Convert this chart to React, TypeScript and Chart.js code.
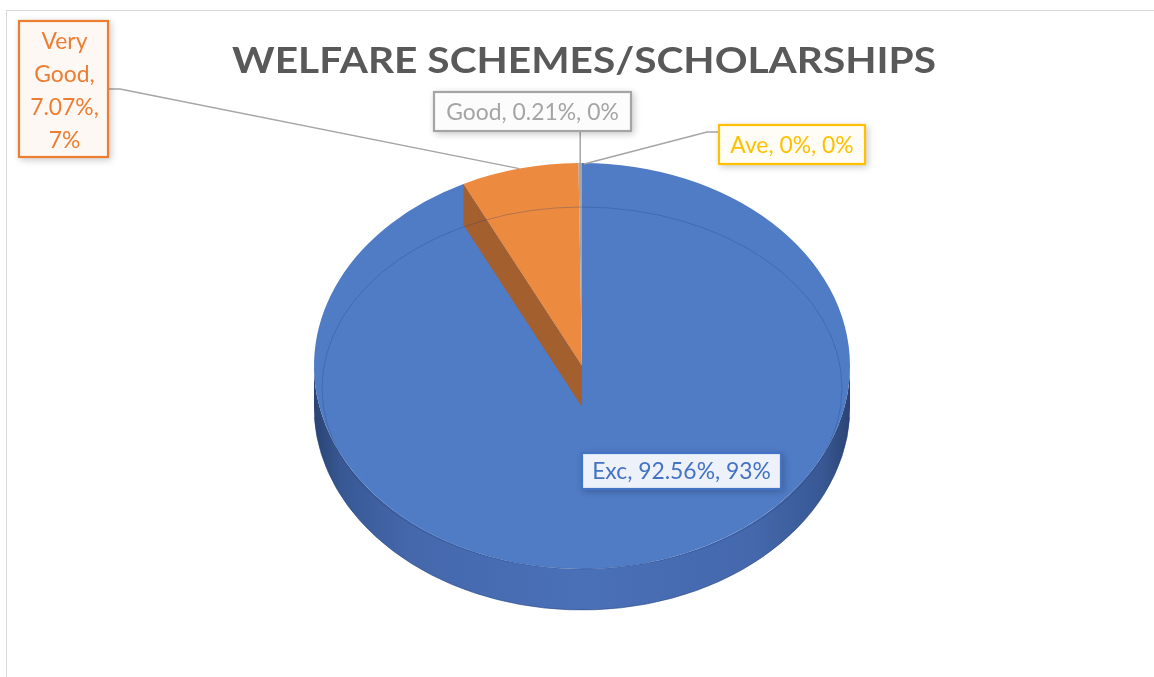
import { useEffect, useRef } from "react";
import { Chart, registerables } from "chart.js";

Chart.register(...registerables);

// ---- data ----
const categories = ["Exc", "Very Good", "Good", "Ave"];
const percentValues = [92.56, 7.07, 0.21, 0];
const percentText = ["92.56%", "7.07%", "0.21%", "0%"];
const roundedText = ["93%", "7%", "0%", "0%"];
const faceColors = ["#507CC6", "#EC8A3F", "#A5A5A5", "#FFC000"];
const labelColors = ["#4472C4", "#ED7D31", "#A5A5A5", "#FFC000"];
const labelFills = ["#EDF1F9", "#FEF8F4", "#FCFCFC", "#FFFDF6"];
const chartTitle = "WELFARE SCHEMES/SCHOLARSHIPS";

const FONT = "Lato, 'Open Sans', 'DejaVu Sans', sans-serif";

// draws text with a given cap height, squeezed horizontally to a target width ratio
function capSize(ctx: CanvasRenderingContext2D, cap: number, weight: string) {
  ctx.font = `${weight} 100px ${FONT}`;
  const c = ctx.measureText("H").actualBoundingBoxAscent;
  return (100 * cap) / c;
}

export default function App() {
  const ref = useRef<HTMLCanvasElement>(null);

  useEffect(() => {
    const canvas = ref.current!;
    const depth = 41;
    const squash = 203 / 268;

    const pie3d = {
      id: "pie3d",
      beforeDatasetsDraw(chart: any) {
        const arc = chart.getDatasetMeta(0).data[0];
        const cx = arc.x, cy = arc.y, rx = arc.outerRadius, ry = rx * squash;
        const ctx: CanvasRenderingContext2D = chart.ctx;
        ctx.save();
        const g = ctx.createLinearGradient(cx - rx, 0, cx + rx, 0);
        g.addColorStop(0, "#2A4372");
        g.addColorStop(0.05, "#385894");
        g.addColorStop(0.18, "#4568AC");
        g.addColorStop(0.5, "#4A70B8");
        g.addColorStop(0.82, "#4568AC");
        g.addColorStop(0.95, "#385894");
        g.addColorStop(1, "#2A4372");
        ctx.beginPath();
        ctx.ellipse(cx, cy, rx, ry, 0, 0, Math.PI, false);
        ctx.lineTo(cx - rx, cy + depth);
        ctx.ellipse(cx, cy + depth, rx, ry, 0, Math.PI, 0, true);
        ctx.closePath();
        ctx.fillStyle = g;
        ctx.fill();
        ctx.beginPath();
        ctx.ellipse(cx, cy + depth, rx, ry, 0, 0.05, Math.PI - 0.05, false);
        ctx.strokeStyle = "rgba(40,70,130,0.6)";
        ctx.lineWidth = 1;
        ctx.stroke();
        ctx.restore();
        ctx.save();
        ctx.translate(cx, cy);
        ctx.scale(1, squash);
        ctx.translate(-cx, -cy);
      },
      afterDatasetsDraw(chart: any) {
        const ctx: CanvasRenderingContext2D = chart.ctx;
        ctx.restore();
        const meta = chart.getDatasetMeta(0);
        const arc = meta.data[0];
        const cx = arc.x, cy = arc.y, rx = arc.outerRadius, ry = rx * squash;
        const vg = meta.data[1];
        const a = vg.startAngle;
        const x0 = cx + rx * Math.cos(a), y0 = cy + ry * Math.sin(a);
        ctx.save();
        ctx.beginPath();
        ctx.moveTo(x0, y0);
        ctx.lineTo(x0, y0 + depth);
        ctx.lineTo(cx, cy + depth);
        ctx.lineTo(cx, cy);
        ctx.closePath();
        ctx.fillStyle = "#A45F2F";
        ctx.fill();
        ctx.beginPath();
        ctx.ellipse(cx, cy + 22, rx - 8, ry - 22, 0, 0, Math.PI * 2);
        ctx.strokeStyle = "rgba(30,60,120,0.28)";
        ctx.lineWidth = 1;
        ctx.stroke();
        ctx.restore();
      },
    };

    const labelsPlugin = {
      id: "labels3d",
      afterDraw(chart: any) {
        const ctx: CanvasRenderingContext2D = chart.ctx;
        const meta = chart.getDatasetMeta(0);
        const arc0 = meta.data[0];
        const cx = arc0.x, cy = arc0.y, rx = arc0.outerRadius, ry = rx * squash;
        const anchor = (i: number) => {
          const el = meta.data[i];
          const m = (el.startAngle + el.endAngle) / 2;
          return { x: cx + rx * Math.cos(m), y: cy + ry * Math.sin(m) };
        };

        const squeezed = (text: string, x: number, y: number, sx: number) => {
          ctx.save();
          ctx.translate(x, y);
          ctx.scale(sx, 1);
          ctx.fillText(text, 0, 0);
          ctx.restore();
        };

        // title
        ctx.save();
        const ts = capSize(ctx, 27, "bold");
        ctx.font = `bold ${ts}px ${FONT}`;
        const tsx = 704 / ctx.measureText(chartTitle).width;
        ctx.fillStyle = "#595959";
        ctx.textAlign = "center";
        ctx.textBaseline = "alphabetic";
        squeezed(chartTitle, 584, 73, tsx);
        ctx.restore();

        const texts = categories.map((c, i) => `${c}, ${percentText[i]}, ${roundedText[i]}`);
        const fs = capSize(ctx, 16.7, "normal");
        ctx.font = `${fs}px ${FONT}`;
        const sx = Math.min(1, 184 / ctx.measureText(texts[0]).width);
        const cap = 16.7;

        const boxes = [
          { x: 581, y: 452, w: 201, h: 38, lines: [texts[0]] },
          { x: 18, y: 20, w: 91, h: 138, lines: ["Very", "Good,", `${percentText[1]},`, roundedText[1]] },
          { x: 433, y: 91, w: 199, h: 41, lines: [texts[2]] },
          { x: 718, y: 124, w: 148, h: 41, lines: [texts[3]] },
        ];

        ctx.save();
        ctx.strokeStyle = "#A5A5A5";
        ctx.lineWidth = 1.5;
        const pVG = anchor(1);
        const bVG = boxes[1];
        ctx.beginPath();
        ctx.moveTo(bVG.x + bVG.w, 89);
        ctx.lineTo(bVG.x + bVG.w + 11, 89);
        ctx.lineTo(pVG.x, pVG.y);
        ctx.stroke();
        const pG = anchor(2);
        ctx.beginPath();
        ctx.moveTo(pG.x, boxes[2].y + boxes[2].h);
        ctx.lineTo(pG.x, pG.y);
        ctx.stroke();
        const pA = anchor(3);
        ctx.beginPath();
        ctx.moveTo(boxes[3].x, 132);
        ctx.lineTo(boxes[3].x - 11, 132);
        ctx.lineTo(pA.x + 2, pA.y + 1);
        ctx.stroke();
        ctx.restore();

        boxes.forEach((b, i) => {
          ctx.save();
          ctx.shadowColor = "rgba(0,0,0,0.22)";
          ctx.shadowBlur = 7;
          ctx.shadowOffsetX = 2;
          ctx.shadowOffsetY = 2;
          ctx.fillStyle = labelFills[i];
          ctx.fillRect(b.x, b.y, b.w, b.h);
          ctx.restore();
          ctx.save();
          ctx.strokeStyle = labelColors[i];
          ctx.lineWidth = 2.2;
          ctx.strokeRect(b.x + 1, b.y + 1, b.w - 2, b.h - 2);
          ctx.fillStyle = labelColors[i];
          ctx.font = `${fs}px ${FONT}`;
          ctx.textAlign = "center";
          ctx.textBaseline = "alphabetic";
          if (b.lines.length === 1) {
            squeezed(b.lines[0], b.x + b.w / 2, b.y + b.h / 2 + cap / 2, sx);
          } else {
            b.lines.forEach((ln, k) => {
              squeezed(ln, b.x + b.w / 2 + 1, b.y + 29 + k * 33, sx);
            });
          }
          ctx.restore();
        });
      },
    };

    const chart = new Chart(canvas, {
      type: "pie",
      data: {
        labels: categories,
        datasets: [
          {
            data: percentValues,
            backgroundColor: faceColors,
            borderWidth: 0,
            hoverOffset: 0,
            clip: false,
          } as any,
        ],
      },
      options: {
        responsive: false,
        animation: false,
        events: [],
        radius: 268,
        layout: { padding: { left: 10, right: 0, top: 55, bottom: 0 } },
        plugins: {
          legend: { display: false },
          tooltip: { enabled: false },
          title: { display: false },
        },
      } as any,
      plugins: [pie3d, labelsPlugin],
    });
    return () => chart.destroy();
  }, []);

  return (
    <div style={{ position: "fixed", left: 0, top: 0, width: 1154, height: 677, background: "#fff", overflow: "hidden" }}>
      <div
        style={{
          position: "absolute",
          left: 6,
          top: 10,
          width: 1200,
          height: 700,
          borderLeft: "1.5px solid #D9D9D9",
          borderTop: "1.5px solid #D9D9D9",
        }}
      />
      <canvas ref={ref} width={1154} height={677} style={{ position: "absolute", left: 0, top: 0, width: 1154, height: 677 }} />
    </div>
  );
}
